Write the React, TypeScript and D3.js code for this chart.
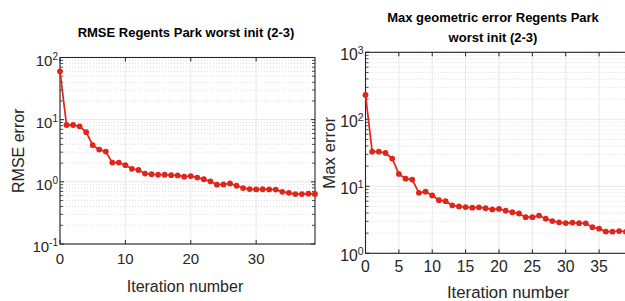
import * as React from 'react';
import * as d3 from 'd3';

const WIDTH = 625;
const HEIGHT = 301;
const RED = '#e0251b';
const FONT = '"Liberation Sans", Arial, Helvetica, sans-serif';

const iterations = [
  0, 1, 2, 3, 4, 5, 6, 7, 8, 9, 10, 11, 12, 13, 14, 15, 16, 17, 18, 19,
  20, 21, 22, 23, 24, 25, 26, 27, 28, 29, 30, 31, 32, 33, 34, 35, 36, 37, 38, 39,
];

const rmseErr = [
  60, 8.2, 8.2, 7.8, 6.3, 3.9, 3.3, 3.07, 2.04, 2.04, 1.85, 1.62, 1.55, 1.36, 1.33,
  1.3, 1.3, 1.28, 1.27, 1.21, 1.24, 1.17, 1.1, 1.02, 0.9, 0.91, 0.94, 0.865, 0.795,
  0.765, 0.755, 0.76, 0.755, 0.75, 0.69, 0.665, 0.635, 0.635, 0.645, 0.64,
];

const maxErr = [
  231, 32.9, 32.9, 31.4, 25.9, 15.3, 13.0, 12.6, 8.0, 8.3, 7.3, 6.2, 6.0, 5.2, 5.0,
  4.9, 4.8, 4.85, 4.7, 4.52, 4.6, 4.32, 4.1, 3.93, 3.46, 3.46, 3.66, 3.29, 3.03, 2.9,
  2.83, 2.87, 2.82, 2.8, 2.45, 2.33, 2.11, 2.1, 2.15, 2.1,
];

const rmseXTicks = [0, 10, 20, 30];
const maxXTicks = [0, 5, 10, 15, 20, 25, 30, 35];
const rmseYExps = [-1, 0, 1, 2];
const maxYExps = [0, 1, 2, 3];

type PanelProps = {
  values: number[];
  left: number;
  right: number;
  top: number;
  bottom: number;
  xMax: number;
  yMin: number;
  yMax: number;
  xTicks: number[];
  yExps: number[];
  title: string[];
  titleX: number;
  titleY: number;
  yLabel: string;
  yLabelX: number;
  xLabelX: number;
  xLabelY: number;
  xTickY: number;
  fontScale: number;
};

function Panel(p: PanelProps) {
  const x = d3.scaleLinear().domain([0, p.xMax]).range([p.left, p.right]);
  const y = d3.scaleLog().domain([p.yMin, p.yMax]).range([p.bottom, p.top]);
  const minor = y.ticks().filter(v => {
    const l = Math.log10(v);
    return Math.abs(l - Math.round(l)) > 1e-6;
  });
  const line = d3
    .line<number>()
    .x((_, i) => x(iterations[i]))
    .y(d => y(d));
  const tick = 4;
  const tickFs = 15 * p.fontScale;
  const supFs = 10 * p.fontScale;
  const labelFs = 16 * p.fontScale;
  const midY = (p.top + p.bottom) / 2;

  return (
    <g>
      {/* grid */}
      {minor.map(v => (
        <line key={'mg' + v} x1={p.left} x2={p.right} y1={y(v)} y2={y(v)}
          stroke="#c4c4c4" strokeWidth={0.6} strokeDasharray="1,2" />
      ))}
      {p.yExps.map(e => (
        <line key={'yg' + e} x1={p.left} x2={p.right} y1={y(10 ** e)} y2={y(10 ** e)}
          stroke="#e2e2e2" strokeWidth={0.8} />
      ))}
      {p.xTicks.map(t => (
        <line key={'xg' + t} x1={x(t)} x2={x(t)} y1={p.top} y2={p.bottom}
          stroke="#e2e2e2" strokeWidth={0.8} />
      ))}

      {/* box */}
      <rect x={p.left} y={p.top} width={p.right - p.left} height={p.bottom - p.top}
        fill="none" stroke="#262626" strokeWidth={1.1} />

      {/* ticks */}
      {p.xTicks.map(t => (
        <g key={'xt' + t}>
          <line x1={x(t)} x2={x(t)} y1={p.bottom} y2={p.bottom - tick} stroke="#262626" />
          <line x1={x(t)} x2={x(t)} y1={p.top} y2={p.top + tick} stroke="#262626" />
          <text x={x(t)} y={p.xTickY} textAnchor="middle" fontSize={tickFs} fill="#262626">{t}</text>
        </g>
      ))}
      {minor.map(v => (
        <g key={'mt' + v}>
          <line x1={p.left} x2={p.left + 3} y1={y(v)} y2={y(v)} stroke="#262626" strokeWidth={0.8} />
          <line x1={p.right} x2={p.right - 3} y1={y(v)} y2={y(v)} stroke="#262626" strokeWidth={0.8} />
        </g>
      ))}
      {p.yExps.map(e => (
        <g key={'yt' + e}>
          <line x1={p.left} x2={p.left + tick} y1={y(10 ** e)} y2={y(10 ** e)} stroke="#262626" />
          <line x1={p.right} x2={p.right - tick} y1={y(10 ** e)} y2={y(10 ** e)} stroke="#262626" />
          <text x={p.left - 2} y={y(10 ** e) + 8} textAnchor="end" fontSize={tickFs} fill="#262626">
            10<tspan dy={-6} fontSize={supFs}>{e}</tspan>
          </text>
        </g>
      ))}

      {/* data */}
      <path d={line(p.values) || ''} fill="none" stroke={RED} strokeWidth={1.7} />
      {p.values.map((v, i) => (
        <circle key={'pt' + i} cx={x(iterations[i])} cy={y(v)} r={2.9} fill={RED} />
      ))}

      {/* labels */}
      {p.title.map((s, i) => (
        <text key={'ti' + i} x={p.titleX} y={p.titleY + i * 20.5} textAnchor="middle"
          fontSize={13} fontWeight="bold" fill="#000">{s}</text>
      ))}
      <text transform={`translate(${p.yLabelX},${midY}) rotate(-90)`} textAnchor="middle"
        fontSize={labelFs} fill="#262626">{p.yLabel}</text>
      <text x={p.xLabelX} y={p.xLabelY} textAnchor="middle" fontSize={labelFs} fill="#262626">
        Iteration number
      </text>
    </g>
  );
}

export default function App() {
  return (
    <svg width={WIDTH} height={HEIGHT}
      style={{ position: 'absolute', left: 0, top: 0, display: 'block', background: '#fff' }}
      fontFamily={FONT}>
      <Panel
        values={rmseErr}
        left={60} right={315} top={57.5} bottom={244}
        xMax={39} yMin={0.1} yMax={100}
        xTicks={rmseXTicks} yExps={rmseYExps}
        title={['RMSE Regents Park worst init (2-3)']}
        titleX={186} titleY={37}
        yLabel="RMSE error" yLabelX={24}
        xLabelX={185} xLabelY={291.5} xTickY={263.5}
        fontScale={1}
      />
      <Panel
        values={maxErr}
        left={365.5} right={652.5} top={52.3} bottom={253.3}
        xMax={43} yMin={1} yMax={1000}
        xTicks={maxXTicks} yExps={maxYExps}
        title={['Max geometric error Regents Park', 'worst init (2-3)']}
        titleX={493} titleY={21.5}
        yLabel="Max error" yLabelX={335}
        xLabelX={508} xLabelY={298} xTickY={272}
        fontScale={1.05}
      />
    </svg>
  );
}
